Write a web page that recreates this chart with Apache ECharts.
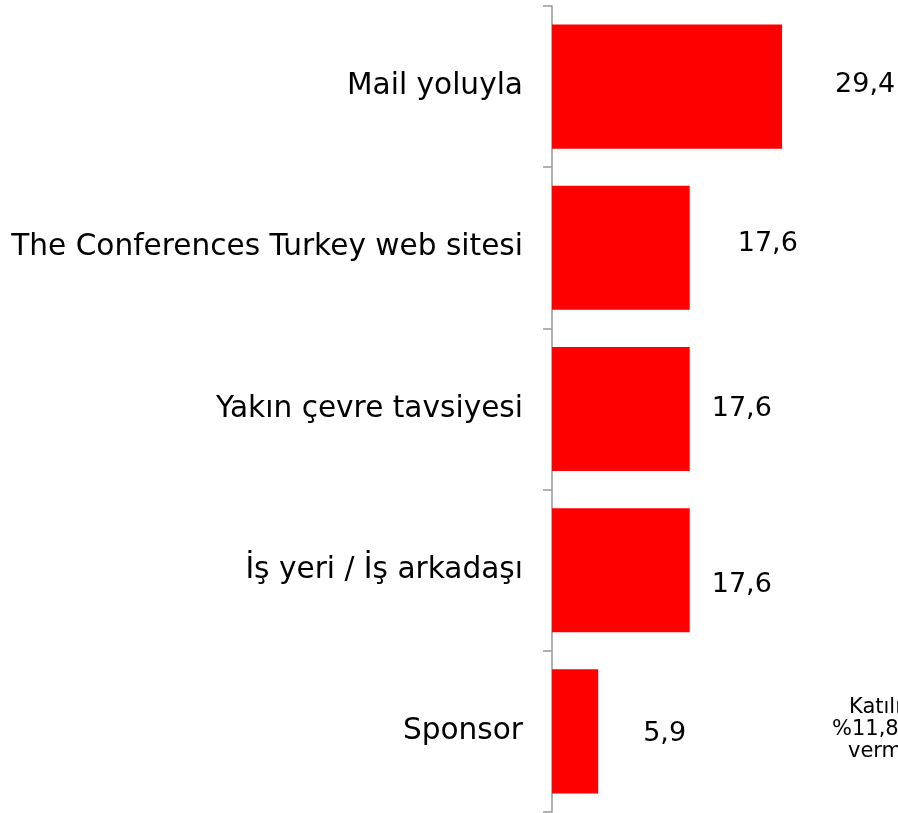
<!DOCTYPE html>
<html>
<head>
<meta charset="utf-8">
<script src="https://cdn.jsdelivr.net/npm/echarts@6/dist/echarts.min.js"></script>
<style>
  html, body { margin: 0; padding: 0; background: #fff; }
  #chart { width: 898px; height: 813px; }
</style>
</head>
<body>
<div id="chart"></div>
<script>
const categories = [
    'Mail yoluyla',
    'The Conferences Turkey web sitesi',
    'Yakın çevre tavsiyesi',
    'İş yeri / İş arkadaşı',
    'Sponsor'
];
const values = [29.4, 17.6, 17.6, 17.6, 5.9];
const noteLines = ['Katılımcıların', '%11,8\'i cevap', 'vermemiştir.'];

// label placement as in the original (distance from bar end, vertical shift)
const labelDistance = [53, 48, 22, 22, 45];
const labelShift = [-2, -4, 0, 15, 3];
// note lines are centred in a box that runs off the right edge
const noteLeft = [849, 832, 848];

const fontFamily = '"DejaVu Sans", Verdana, sans-serif';

const chart = echarts.init(document.getElementById('chart'), null, { renderer: 'canvas' });

chart.setOption({
    animation: false,
    grid: { left: 552, top: 6, bottom: 1, right: 33, containLabel: false },
    xAxis: {
        type: 'value',
        min: 0,
        max: 40,
        show: false
    },
    yAxis: {
        type: 'category',
        inverse: true,
        data: categories,
        boundaryGap: true,
        axisLine: { show: true, lineStyle: { color: '#999', width: 1.5 } },
        axisTick: { show: true, interval: 0, length: 9, lineStyle: { color: '#999', width: 1.5 } },
        axisLabel: {
            margin: 29,
            fontSize: 29.6,
            color: '#000',
            fontFamily
        }
    },
    series: [
        {
            type: 'bar',
            barCategoryGap: '23%',
            itemStyle: { color: '#ff0000' },
            data: values.map((v, i) => ({
                value: v,
                label: {
                    show: true,
                    position: 'right',
                    distance: labelDistance[i],
                    offset: [0, labelShift[i]],
                    fontSize: 27,
                    color: '#000',
                    fontFamily,
                    formatter: (p) => p.value.toFixed(1).replace('.', ',')
                }
            }))
        }
    ],
    graphic: noteLines.map((line, i) => ({
        type: 'text',
        x: noteLeft[i],
        y: 697 + i * 22,
        style: {
            text: line,
            font: '21px ' + fontFamily,
            fill: '#000',
            align: 'left',
            verticalAlign: 'top',
            lineHeight: 22
        }
    }))
});

window.addEventListener('resize', chart.resize);
</script>
</body>
</html>
